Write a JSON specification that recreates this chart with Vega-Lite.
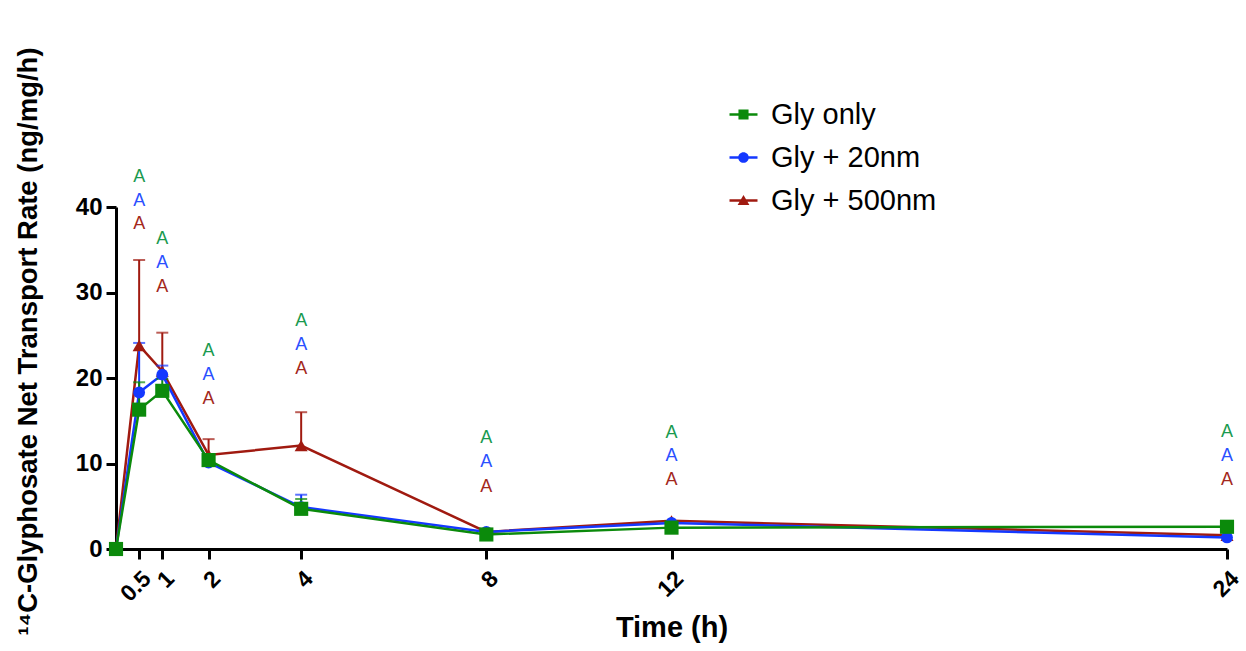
{
  "$schema": "https://vega.github.io/schema/vega-lite/v6.json",
  "width": 1111,
  "height": 342,
  "autosize": {"type": "none"},
  "padding": {"left": 116, "top": 207, "right": 19, "bottom": 102},
  "background": "white",
  "config": {
    "view": {"stroke": null},
    "font": "Liberation Sans",
    "axis": {
      "grid": false,
      "domainColor": "black",
      "domainWidth": 3,
      "tickColor": "black",
      "tickWidth": 3,
      "labelColor": "black",
      "titleColor": "black",
      "labelFontWeight": "bold",
      "titleFontWeight": "bold",
      "labelFont": "Liberation Sans",
      "titleFont": "Liberation Sans"
    }
  },
  "datasets": {
    "main": [
      {"series": "Gly + 500nm", "time": 0, "value": 0, "upper": null},
      {"series": "Gly + 500nm", "time": 0.5, "value": 23.8, "upper": 33.8},
      {"series": "Gly + 500nm", "time": 1, "value": 20.8, "upper": 25.3},
      {"series": "Gly + 500nm", "time": 2, "value": 11.0, "upper": 12.85},
      {"series": "Gly + 500nm", "time": 4, "value": 12.1, "upper": 16.0},
      {"series": "Gly + 500nm", "time": 8, "value": 2.0, "upper": null},
      {"series": "Gly + 500nm", "time": 12, "value": 3.3, "upper": null},
      {"series": "Gly + 500nm", "time": 24, "value": 1.6, "upper": null},
      {"series": "Gly + 20nm", "time": 0, "value": 0, "upper": null},
      {"series": "Gly + 20nm", "time": 0.5, "value": 18.3, "upper": 24.1},
      {"series": "Gly + 20nm", "time": 1, "value": 20.4, "upper": 21.45},
      {"series": "Gly + 20nm", "time": 2, "value": 10.1, "upper": null},
      {"series": "Gly + 20nm", "time": 4, "value": 4.9, "upper": 6.35},
      {"series": "Gly + 20nm", "time": 8, "value": 2.0, "upper": null},
      {"series": "Gly + 20nm", "time": 12, "value": 3.05, "upper": null},
      {"series": "Gly + 20nm", "time": 24, "value": 1.35, "upper": null},
      {"series": "Gly only", "time": 0, "value": 0, "upper": null},
      {"series": "Gly only", "time": 0.5, "value": 16.3, "upper": 19.5},
      {"series": "Gly only", "time": 1, "value": 18.5, "upper": 19.9},
      {"series": "Gly only", "time": 2, "value": 10.4, "upper": null},
      {"series": "Gly only", "time": 4, "value": 4.7, "upper": 5.85},
      {"series": "Gly only", "time": 8, "value": 1.7, "upper": null},
      {"series": "Gly only", "time": 12, "value": 2.5, "upper": null},
      {"series": "Gly only", "time": 24, "value": 2.6, "upper": null}
    ],
    "letters": [
      {"series": "Gly only", "time": 0.5, "y": 43.5, "label": "A"},
      {"series": "Gly + 20nm", "time": 0.5, "y": 40.7, "label": "A"},
      {"series": "Gly + 500nm", "time": 0.5, "y": 38.0, "label": "A"},
      {"series": "Gly only", "time": 1, "y": 36.3, "label": "A"},
      {"series": "Gly + 20nm", "time": 1, "y": 33.4, "label": "A"},
      {"series": "Gly + 500nm", "time": 1, "y": 30.6, "label": "A"},
      {"series": "Gly only", "time": 2, "y": 23.2, "label": "A"},
      {"series": "Gly + 20nm", "time": 2, "y": 20.3, "label": "A"},
      {"series": "Gly + 500nm", "time": 2, "y": 17.5, "label": "A"},
      {"series": "Gly only", "time": 4, "y": 26.7, "label": "A"},
      {"series": "Gly + 20nm", "time": 4, "y": 23.9, "label": "A"},
      {"series": "Gly + 500nm", "time": 4, "y": 21.0, "label": "A"},
      {"series": "Gly only", "time": 8, "y": 13.0, "label": "A"},
      {"series": "Gly + 20nm", "time": 8, "y": 10.2, "label": "A"},
      {"series": "Gly + 500nm", "time": 8, "y": 7.3, "label": "A"},
      {"series": "Gly only", "time": 12, "y": 13.6, "label": "A"},
      {"series": "Gly + 20nm", "time": 12, "y": 10.9, "label": "A"},
      {"series": "Gly + 500nm", "time": 12, "y": 8.1, "label": "A"},
      {"series": "Gly only", "time": 24, "y": 13.7, "label": "A"},
      {"series": "Gly + 20nm", "time": 24, "y": 10.9, "label": "A"},
      {"series": "Gly + 500nm", "time": 24, "y": 8.1, "label": "A"}
    ]
  },
  "encoding": {
    "x": {
      "field": "time",
      "type": "quantitative",
      "scale": {"domain": [0, 24], "nice": false},
      "axis": {
        "title": "Time (h)",
        "values": [0.5, 1, 2, 4, 8, 12, 24],
        "format": "~g",
        "labelAngle": -45,
        "labelFontSize": 23,
        "labelOverlap": false,
        "labelFlush": false,
        "tickSize": 10,
        "labelPadding": 8,
        "titleFontSize": 29,
        "titleY": 64
      }
    }
  },
  "layer": [
    {
      "data": {"name": "main"},
      "mark": {"type": "line", "strokeWidth": 2.5},
      "encoding": {
        "y": {
          "field": "value",
          "type": "quantitative",
          "scale": {"domain": [0, 40], "nice": false},
          "axis": {
            "title": "¹⁴C-Glyphosate Net Transport Rate (ng/mg/h)",
            "values": [0, 10, 20, 30, 40],
            "labelFontSize": 24,
            "tickSize": 10,
            "labelPadding": 4,
            "titleFontSize": 27.5,
            "titleBaseline": "alphabetic",
            "titleX": -80,
            "titleY": 134
          }
        },
        "color": {
          "field": "series",
          "type": "nominal",
          "scale": {
            "domain": ["Gly only", "Gly + 20nm", "Gly + 500nm"],
            "range": ["#0b8a0b", "#1438ff", "#a01a10"]
          },
          "legend": {
            "title": null,
            "orient": "none",
            "legendX": 613,
            "legendY": -107,
            "labelFontSize": 29,
            "labelFont": "Liberation Sans",
            "labelColor": "black",
            "labelOffset": 13,
            "labelLimit": 400,
            "symbolSize": 784,
            "symbolStrokeWidth": 0,
            "rowPadding": 13,
            "symbolOpacity": 1,
            "encode": {
              "symbols": {
                "update": {
                  "fill": {"signal": "scale('color', datum.value)"},
                  "strokeWidth": {"value": 0},
                  "opacity": {"value": 1},
                  "shape": {
                    "signal": "datum.value === 'Gly only' ? 'M-1,-0.09H1V0.09H-1Z M-0.36,-0.36H0.36V0.36H-0.36Z' : datum.value === 'Gly + 20nm' ? 'M-1,-0.09H1V0.09H-1Z M0.38,0A0.38,0.38 0 1 1 -0.38,0A0.38,0.38 0 1 1 0.38,0Z' : 'M-1,-0.09H1V0.09H-1Z M0,-0.4L0.42,0.32H-0.42Z'"
                  }
                }
              }
            }
          }
        }
      }
    },
    {
      "data": {"name": "main"},
      "transform": [{"filter": "datum.upper != null"}],
      "mark": {"type": "rule", "strokeWidth": 2},
      "encoding": {
        "y": {"field": "value", "type": "quantitative"},
        "y2": {"field": "upper"},
        "color": {"field": "series", "type": "nominal"}
      }
    },
    {
      "data": {"name": "main"},
      "transform": [{"filter": "datum.upper != null"}],
      "mark": {"type": "tick", "orient": "horizontal", "size": 12, "thickness": 2},
      "encoding": {
        "y": {"field": "upper", "type": "quantitative"},
        "color": {"field": "series", "type": "nominal"}
      }
    },
    {
      "data": {"name": "main"},
      "transform": [{"filter": "datum.series === 'Gly + 500nm'"}],
      "mark": {"type": "point", "shape": "triangle-up", "size": 170, "filled": true, "opacity": 1, "strokeWidth": 0},
      "encoding": {
        "y": {"field": "value", "type": "quantitative"},
        "color": {"field": "series", "type": "nominal"}
      }
    },
    {
      "data": {"name": "main"},
      "transform": [{"filter": "datum.series === 'Gly + 20nm'"}],
      "mark": {"type": "point", "shape": "circle", "size": 140, "filled": true, "opacity": 1, "strokeWidth": 0},
      "encoding": {
        "y": {"field": "value", "type": "quantitative"},
        "color": {"field": "series", "type": "nominal"}
      }
    },
    {
      "data": {"name": "main"},
      "transform": [{"filter": "datum.series === 'Gly only'"}],
      "mark": {"type": "point", "shape": "square", "size": 200, "filled": true, "opacity": 1, "strokeWidth": 0},
      "encoding": {
        "y": {"field": "value", "type": "quantitative"},
        "color": {"field": "series", "type": "nominal"}
      }
    },
    {
      "data": {"name": "letters"},
      "mark": {"type": "text", "fontSize": 18, "font": "Liberation Sans", "baseline": "middle", "align": "center"},
      "encoding": {
        "y": {"field": "y", "type": "quantitative"},
        "text": {"field": "label"},
        "fill": {
          "field": "series",
          "type": "nominal",
          "scale": {
            "domain": ["Gly only", "Gly + 20nm", "Gly + 500nm"],
            "range": ["#1a9a4f", "#2a50ff", "#a3281c"]
          },
          "legend": null
        }
      }
    }
  ]
}
